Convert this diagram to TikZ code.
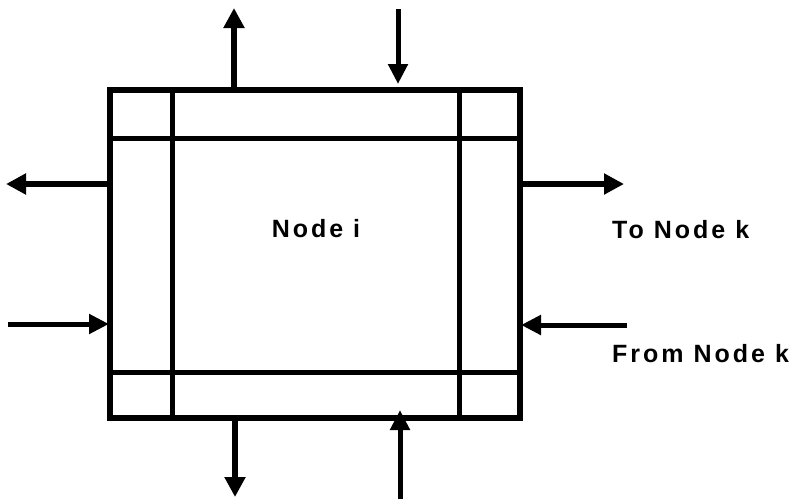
\documentclass[tikz,border=0pt]{standalone}
\usepackage{fontspec}
\newfontfamily\labfont{Liberation Sans}[LetterSpace=12]
\usetikzlibrary{arrows.meta}
\begin{document}
\begin{tikzpicture}[x=1pt,y=-1pt,
  inner line/.style={line width=5pt},
  outarrow/.style={line width=6pt,-{Triangle[length=20pt,width=20pt]}},
  inarrow/.style={line width=5pt,-{Triangle[length=20pt,width=19pt]}},
  lab/.style={font=\labfont\bfseries\fontsize{25}{28}\selectfont,inner sep=0pt}]
\useasboundingbox (0,0) rectangle (802,499);
\node[draw,line width=6pt,minimum width=410pt,minimum height=328pt,inner sep=0pt] (box) at (315,254) {};
% inner partition lines
\draw[inner line] (172,90) -- (172,418);
\draw[inner line] (459,90) -- (459,418);
\draw[inner line] (110,138) -- (520,138);
\draw[inner line] (110,372) -- (520,372);
% free ends
\coordinate (tOut) at (234,8);
\coordinate (tIn) at (398,9);
\coordinate (lOut) at (6,184);
\coordinate (lIn) at (8,324);
\coordinate (rOut) at (624,184);
\coordinate (rIn) at (627,325);
\coordinate (bOut) at (235,497);
\coordinate (bIn) at (400,499);
\coordinate (bInTip) at (400,410);
% arrows
\draw[outarrow] (box.north -| tOut) -- (tOut);
\draw[inarrow] (tIn) -- ([yshift=3pt]box.north -| tIn);
\draw[outarrow] (box.west |- lOut) -- (lOut);
\draw[inarrow] (lIn) -- ([xshift=2pt]box.west |- lIn);
\draw[outarrow] (box.east |- rOut) -- (rOut);
\draw[inarrow] (rIn) -- ([xshift=-2pt]box.east |- rIn);
\draw[outarrow] (box.south -| bOut) -- (bOut);
\draw[inarrow] (bIn) -- (bInTip);
% labels
\node[lab] (ni) at (316,229) {Node i};
\node[lab,anchor=west] (tk) at (612,230) {To Node k};
\node[lab,anchor=west] (fk) at (612,354) {From Node k};
\end{tikzpicture}
\end{document}
